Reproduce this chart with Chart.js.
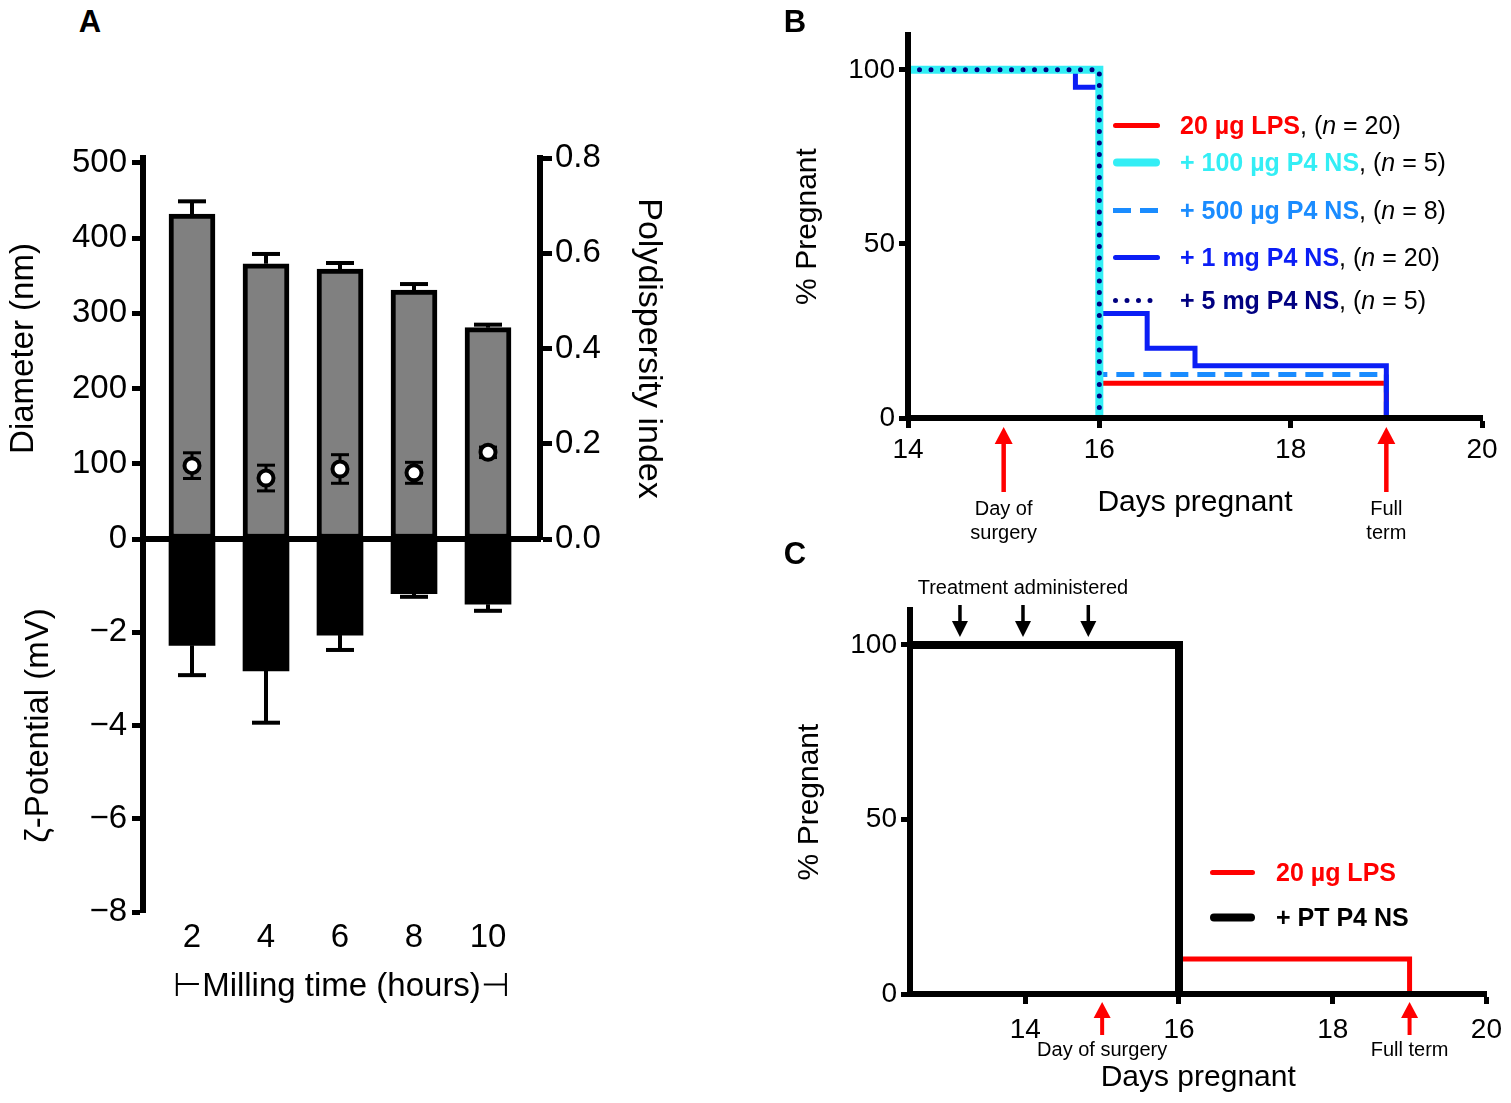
<!DOCTYPE html>
<html>
<head>
<meta charset="utf-8">
<title>P4 nanosuspension figure</title>
<script src="https://cdn.jsdelivr.net/npm/chart.js@4.4.1/dist/chart.umd.min.js"></script>
<style>
  html, body { margin: 0; padding: 0; background: #fff; }
  body { position: relative; width: 1511px; height: 1103px; overflow: hidden;
         font-family: Arial, "Liberation Sans", Helvetica, sans-serif; color: #000; }
  canvas { position: absolute; }
  .lbl { position: absolute; white-space: nowrap; line-height: 1; }
  .mid { transform: translate(-50%, -50%); text-align: center; }
  .panel { font-size: 31px; font-weight: bold; }
  .legend-row { position: absolute; display: flex; align-items: center; white-space: nowrap;
                font-size: 25px; line-height: 1; transform: translateY(-50%); }
  .legend-row b { font-weight: bold; }
</style>
</head>
<body>
<canvas id="chartA1" width="700" height="465" style="left:0;top:100px"></canvas>
<canvas id="chartA2" width="700" height="520" style="left:0;top:500px"></canvas>
<canvas id="chartB" width="731" height="540" style="left:780px;top:0"></canvas>
<canvas id="chartC" width="731" height="543" style="left:780px;top:560px"></canvas>

<div class="lbl panel mid" style="left:90px;top:21px">A</div>
<div class="lbl panel mid" style="left:795px;top:21px">B</div>
<div class="lbl panel mid" style="left:795px;top:553px">C</div>
<div id="legends"></div>
<div id="notes"></div>

<script>
const FONT = 'Arial, "Liberation Sans", Helvetica, sans-serif';
Chart.defaults.font.family = FONT;
Chart.defaults.color = "#000";

// ---- panel A: milling time
const millHours = [2, 4, 6, 8, 10];
const diameterNm = [432, 366, 359, 331, 281];
const diameterSd = [17, 13, 8, 8, 4];
const pdiValues = [0.154, 0.128, 0.147, 0.139, 0.182];
const pdiSd = [0.027, 0.027, 0.03, 0.022, 0.011];
const zetaMv = [-2.28, -2.83, -2.06, -1.17, -1.4];
const zetaSd = [0.64, 1.11, 0.32, 0.07, 0.14];
const diameterTicks = [0, 100, 200, 300, 400, 500];
const pdiTicks = [0, 0.2, 0.4, 0.6, 0.8];
const zetaTicks = [-8, -6, -4, -2, 0];

// ---- panel B: % pregnant after LPS
const bLegend = ["20 µg LPS", "+ 100 µg P4 NS", "+ 500 µg P4 NS", "+ 1 mg P4 NS", "+ 5 mg P4 NS"];
const bGroupN = [20, 5, 8, 20, 5];
const lpsDays = [14, 16, 19];
const lpsPct = [100, 10, 0];
const ns100Days = [14, 16];
const ns100Pct = [100, 0];
const ns500Days = [14, 16, 19];
const ns500Pct = [100, 12.5, 0];
const ns1mgDays = [14, 15.75, 16, 16.5, 17, 19];
const ns1mgPct = [100, 95, 30, 20, 15, 0];
const ns5mgDays = [14, 16];
const ns5mgPct = [100, 0];
const bDayTicks = [14, 16, 18, 20];
const pctTicks = [0, 50, 100];

// ---- panel C: pretreatment
const cLegend = ["20 µg LPS", "+ PT P4 NS"];
const cLpsDays = [12.5, 16, 19];
const cLpsPct = [100, 10, 0];
const ptDays = [12.5, 16];
const ptPct = [100, 0];
const cDayTicks = [14, 16, 18, 20];

const surgeryDay = 15;
const fullTermDay = 19;
const treatmentDays = [13.15, 13.97, 14.82];

// styles (kept apart from the data)
const bStyles = [
  { color: "#ff0000", width: 5 },
  { color: "#33eef5", width: 8 },
  { color: "#1a8cff", width: 5, dash: [18, 9] },
  { color: "#0b1ef5", width: 5 },
  { color: "#000080", width: 5, dash: [0, 11.5], cap: "round" },
];
const cStyles = [
  { color: "#ff0000", width: 5 },
  { color: "#000000", width: 8 },
];

const pts = (xs, ys) => xs.map((x, i) => ({ x: x, y: ys[i] }));
const fixTicks = (values) => (scale) => {
  scale.ticks = values.map((v) => ({ value: v }));
};

function axis(tickLen, size, extra) {
  return Object.assign(
    {
      type: "linear",
      grid: { drawOnChartArea: false, drawTicks: true, tickLength: tickLen, tickWidth: 5, tickColor: "#000" },
      border: { display: true, width: 6, color: "#000", z: 1 },
      ticks: { font: { size: size }, color: "#000", padding: 4 },
    },
    extra
  );
}

function line(ctx, x1, y1, x2, y2) {
  ctx.beginPath();
  ctx.moveTo(x1, y1);
  ctx.lineTo(x2, y2);
  ctx.stroke();
}

function arrow(ctx, x, yTail, yTip, color, half, head, w) {
  const dir = yTip < yTail ? -1 : 1;
  ctx.save();
  ctx.strokeStyle = color;
  ctx.fillStyle = color;
  ctx.lineWidth = w;
  line(ctx, x, yTail, x, yTip - dir * (head - 1));
  ctx.beginPath();
  ctx.moveTo(x, yTip);
  ctx.lineTo(x - half, yTip - dir * head);
  ctx.lineTo(x + half, yTip - dir * head);
  ctx.closePath();
  ctx.fill();
  ctx.restore();
}

const baseOptions = {
  responsive: false,
  devicePixelRatio: 1,
  animation: false,
  events: [],
  plugins: { legend: { display: false }, tooltip: { enabled: false } },
};

// ---------- panel A, upper half: diameter bars + PDI points
const errorBarsA1 = {
  id: "errorBarsA1",
  beforeDatasetDraw(chart, args) {
    if (args.index !== 1) return;
    const { ctx, scales } = chart;
    ctx.save();
    ctx.strokeStyle = "#000";
    millHours.forEach((h, i) => {
      const px = scales.x.getPixelForValue(h);
      const base = scales.y.getPixelForValue(diameterNm[i]);
      const top = scales.y.getPixelForValue(diameterNm[i] + diameterSd[i]);
      ctx.lineWidth = 4;
      line(ctx, px, base, px, top);
      line(ctx, px - 14, top, px + 14, top);
      const hi = scales.yP.getPixelForValue(pdiValues[i] + pdiSd[i]);
      const lo = scales.yP.getPixelForValue(pdiValues[i] - pdiSd[i]);
      ctx.lineWidth = 3;
      line(ctx, px, lo, px, hi);
      line(ctx, px - 9, hi, px + 9, hi);
      line(ctx, px - 9, lo, px + 9, lo);
    });
    ctx.restore();
  },
};

new Chart(document.getElementById("chartA1"), {
  type: "bar",
  data: {
    datasets: [
      {
        type: "bar",
        data: pts(millHours, diameterNm),
        backgroundColor: "#808080",
        borderColor: "#000",
        borderWidth: 5,
        borderSkipped: false,
        barThickness: 46,
        yAxisID: "y",
        order: 2,
      },
      {
        type: "scatter",
        data: pts(millHours, pdiValues),
        backgroundColor: "#fff",
        borderColor: "#000",
        borderWidth: 4,
        pointRadius: 7.5,
        yAxisID: "yP",
        order: 1,
      },
    ],
  },
  options: Object.assign({}, baseOptions, {
    layout: { padding: { left: 0, top: 58, right: 27, bottom: 0 } },
    scales: {
      x: {
        type: "linear", min: 0.676, max: 11.405, offset: false,
        ticks: { display: false },
        grid: { display: false, drawTicks: false },
        border: { display: true, width: 6, color: "#000", z: 1 },
        afterFit: (s) => { s.height = 26; },
      },
      y: axis(11, 33, {
        position: "left", min: 0, max: 506.6,
        afterBuildTicks: fixTicks(diameterTicks),
        ticks: { font: { size: 33 }, color: "#000", padding: 5 },
        title: { display: true, text: "Diameter (nm)", font: { size: 33 }, color: "#000" },
        afterFit: (s) => { s.width = 143; },
      }),
      yP: axis(12, 33, {
        position: "right", min: 0, max: 0.8,
        afterBuildTicks: fixTicks(pdiTicks),
        ticks: { font: { size: 33 }, color: "#000", padding: 3, callback: (v) => v.toFixed(1) },
        title: { display: true, text: "Polydispersity index", font: { size: 34 }, color: "#000" },
        afterFit: (s) => { s.width = 133; },
      }),
    },
  }),
  plugins: [errorBarsA1],
});

// ---------- panel A, lower half: zeta potential
const errorBarsA2 = {
  id: "errorBarsA2",
  afterDatasetsDraw(chart) {
    const { ctx, scales } = chart;
    ctx.save();
    ctx.strokeStyle = "#000";
    ctx.lineWidth = 4;
    millHours.forEach((h, i) => {
      const px = scales.x.getPixelForValue(h);
      const end = scales.y.getPixelForValue(zetaMv[i]);
      const low = scales.y.getPixelForValue(zetaMv[i] - zetaSd[i]);
      line(ctx, px, end, px, low);
      line(ctx, px - 14, low, px + 14, low);
    });
    ctx.restore();
  },
};

new Chart(document.getElementById("chartA2"), {
  type: "bar",
  data: {
    datasets: [
      {
        data: pts(millHours, zetaMv),
        backgroundColor: "#000",
        borderWidth: 0,
        barThickness: 46,
      },
    ],
  },
  options: Object.assign({}, baseOptions, {
    layout: { padding: { left: 15, top: 39, right: 160, bottom: 9 } },
    scales: {
      x: {
        type: "linear", min: 0.676, max: 11.405, offset: false,
        afterBuildTicks: fixTicks(millHours),
        ticks: { font: { size: 33 }, color: "#000", padding: 6 },
        grid: { display: false, drawTicks: false },
        border: { display: false },
        title: { display: true, text: "\u22A2Milling time (hours)\u22A3", font: { size: 33 }, color: "#000" },
        afterFit: (s) => { s.height = 99; },
      },
      y: axis(11, 33, {
        position: "left", min: -8, max: 0,
        afterBuildTicks: fixTicks(zetaTicks),
        ticks: {
          font: { size: 33 }, color: "#000", padding: 5,
          callback: (v) => (v === 0 ? "" : "\u2212" + Math.abs(v)),
        },
        title: { display: true, text: "ζ-Potential (mV)", font: { size: 33 }, color: "#000" },
        afterFit: (s) => { s.width = 128; },
      }),
    },
  }),
  plugins: [errorBarsA2],
});

// ---------- panel B
function stepSet(days, pct, st, order) {
  return {
    data: pts(days, pct),
    borderColor: st.color,
    borderWidth: st.width,
    borderDash: st.dash || [],
    borderCapStyle: st.cap || "butt",
    stepped: "before",
    pointRadius: 0,
    fill: false,
    order: order,
  };
}

const bArrows = {
  id: "bArrows",
  afterDraw(chart) {
    const { ctx, chartArea, scales } = chart;
    [surgeryDay, fullTermDay].forEach((d) =>
      arrow(ctx, scales.x.getPixelForValue(d), chartArea.bottom + 74, chartArea.bottom + 9, "#ff0000", 9, 17, 4.5)
    );
  },
};

const chartB = new Chart(document.getElementById("chartB"), {
  type: "line",
  data: {
    datasets: [
      stepSet(lpsDays, lpsPct, bStyles[0], 5),
      stepSet(ns100Days, ns100Pct, bStyles[1], 2),
      stepSet(ns500Days, ns500Pct, bStyles[2], 4),
      stepSet(ns1mgDays, ns1mgPct, bStyles[3], 3),
      stepSet(ns5mgDays, ns5mgPct, bStyles[4], 1),
    ],
  },
  options: Object.assign({}, baseOptions, {
    layout: { padding: { left: 6, top: 35, right: 29, bottom: 15 } },
    scales: {
      x: axis(10, 28, {
        position: "bottom", min: 14, max: 20,
        afterBuildTicks: fixTicks(bDayTicks),
        ticks: { font: { size: 28 }, color: "#000", padding: 5 },
        title: { display: true, text: "Days pregnant", font: { size: 30 }, color: "#000" },
        afterFit: (s) => { s.height = 107; },
      }),
      y: axis(9, 28, {
        position: "left", min: 0, max: 110,
        afterBuildTicks: fixTicks(pctTicks),
        title: { display: true, text: "% Pregnant", font: { size: 30 }, color: "#000" },
        afterFit: (s) => { s.width = 122; },
      }),
    },
  }),
  plugins: [bArrows],
});

// ---------- panel C
const cArrows = {
  id: "cArrows",
  afterDraw(chart) {
    const { ctx, chartArea, scales } = chart;
    treatmentDays.forEach((d) =>
      arrow(ctx, scales.x.getPixelForValue(d), chartArea.top - 5, chartArea.top + 27, "#000", 8, 16, 3.5)
    );
    [surgeryDay, fullTermDay].forEach((d) =>
      arrow(ctx, scales.x.getPixelForValue(d), chartArea.bottom + 41, chartArea.bottom + 8, "#ff0000", 8.5, 16, 4)
    );
  },
};

const chartC = new Chart(document.getElementById("chartC"), {
  type: "line",
  data: {
    datasets: [
      stepSet(cLpsDays, cLpsPct, cStyles[0], 2),
      stepSet(ptDays, ptPct, cStyles[1], 1),
    ],
  },
  options: Object.assign({}, baseOptions, {
    layout: { padding: { left: 8, top: 50, right: 23, bottom: 3 } },
    scales: {
      x: axis(10, 28, {
        position: "bottom", min: 12.5, max: 20,
        afterBuildTicks: fixTicks(cDayTicks),
        ticks: { font: { size: 28 }, color: "#000", padding: 9 },
        title: { display: true, text: "Days pregnant", font: { size: 30 }, color: "#000" },
        afterFit: (s) => { s.height = 106; },
      }),
      y: axis(9, 28, {
        position: "left", min: 0, max: 110,
        afterBuildTicks: fixTicks(pctTicks),
        title: { display: true, text: "% Pregnant", font: { size: 30 }, color: "#000" },
        afterFit: (s) => { s.width = 122; },
      }),
    },
  }),
  plugins: [cArrows],
});

// ---------- html legends and notes
function sample(st, w) {
  const ns = "http://www.w3.org/2000/svg";
  const svg = document.createElementNS(ns, "svg");
  svg.setAttribute("width", w);
  svg.setAttribute("height", 14);
  const ln = document.createElementNS(ns, "line");
  const round = !st.dash || st.cap === "round";
  const inset = st.dash && st.cap !== "round" ? 0 : st.width / 2;
  ln.setAttribute("x1", inset);
  ln.setAttribute("x2", w - inset);
  ln.setAttribute("y1", 7);
  ln.setAttribute("y2", 7);
  ln.setAttribute("stroke", st.color);
  ln.setAttribute("stroke-width", st.width);
  ln.setAttribute("stroke-linecap", round ? "round" : "butt");
  if (st.dash) ln.setAttribute("stroke-dasharray", st.dash.join(" "));
  svg.appendChild(ln);
  return svg;
}

function legendRow(left, top, st, w, gap, html) {
  const row = document.createElement("div");
  row.className = "legend-row";
  row.style.left = left + "px";
  row.style.top = top + "px";
  const s = sample(st, w);
  s.style.marginRight = gap + "px";
  row.appendChild(s);
  const t = document.createElement("span");
  t.innerHTML = html;
  row.appendChild(t);
  document.getElementById("legends").appendChild(row);
}

const bRowsY = [125, 162, 210, 257, 300];
bLegend.forEach((name, i) => {
  legendRow(1113, bRowsY[i], bStyles[i], 47, 20,
    '<b style="color:' + bStyles[i].color + '">' + name + "</b>, (<i>n</i> = " + bGroupN[i] + ")");
});

const cRowsY = [872, 917];
cLegend.forEach((name, i) => {
  legendRow(1210, cRowsY[i], cStyles[i], 45, 21,
    '<b style="color:' + cStyles[i].color + '">' + name + "</b>");
});

function note(html, cx, cy, size, lh) {
  const el = document.createElement("div");
  el.className = "lbl mid";
  el.style.left = cx + "px";
  el.style.top = cy + "px";
  el.style.fontSize = size + "px";
  el.style.lineHeight = (lh || size) + "px";
  el.innerHTML = html;
  document.getElementById("notes").appendChild(el);
}

const bLeft = 780, cLeft = 780, cTop = 560;
note("Day of<br>surgery", bLeft + chartB.scales.x.getPixelForValue(surgeryDay), 520, 20, 24);
note("Full<br>term", bLeft + chartB.scales.x.getPixelForValue(fullTermDay), 520, 20, 24);
note("Treatment administered", cLeft + chartC.scales.x.getPixelForValue(treatmentDays[1]), 587, 20);
note("Day of surgery", cLeft + chartC.scales.x.getPixelForValue(surgeryDay), cTop + chartC.chartArea.bottom + 55, 20);
note("Full term", cLeft + chartC.scales.x.getPixelForValue(fullTermDay), cTop + chartC.chartArea.bottom + 55, 20);
</script>
</body>
</html>
